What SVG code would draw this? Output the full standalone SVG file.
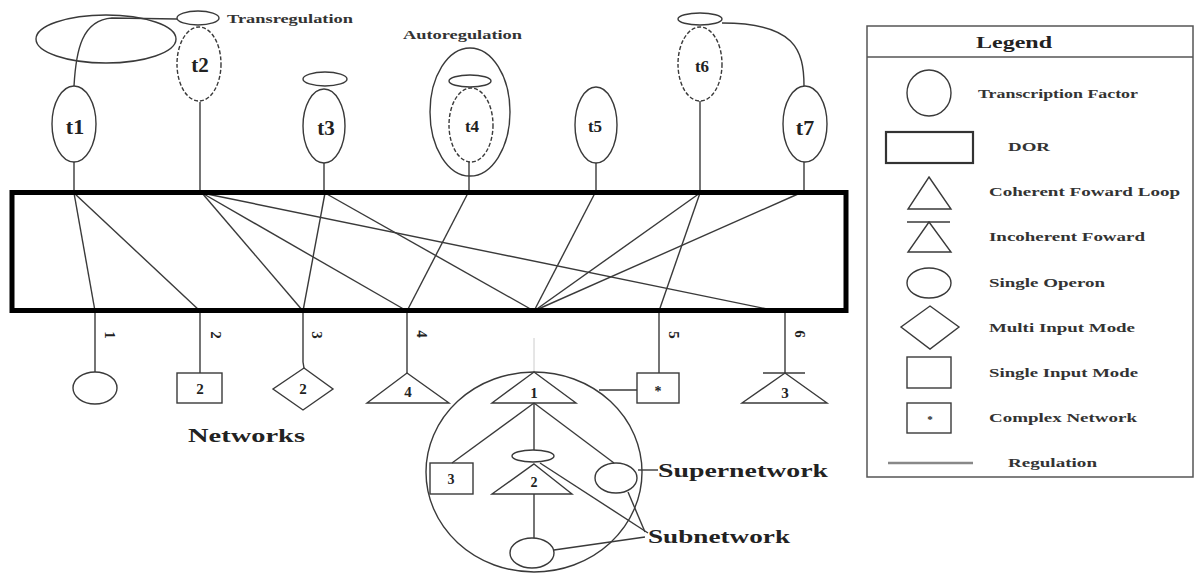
<svg xmlns="http://www.w3.org/2000/svg" width="1196" height="574" viewBox="0 0 1196 574">
<style>
.s{fill:none;stroke:#3a3a3a;stroke-width:1.4}
.d{fill:none;stroke:#3a3a3a;stroke-width:1.4;stroke-dasharray:4 2}
.tl{font-family:"Liberation Serif",serif;font-weight:bold;fill:#222;text-anchor:middle;dominant-baseline:central}
.b{font-family:"Liberation Serif",serif;font-weight:bold;fill:#222}
.sm{font-family:"Liberation Serif",serif;font-weight:bold;fill:#333;font-size:12px;dominant-baseline:central}
.c{text-anchor:middle;dominant-baseline:central}
</style>
<rect width="1196" height="574" fill="#fff"/>
<g id="connectors">
<path class="s" d="M74,86 C76,50 82,20 112,18 L177,19"/>
<path class="s" d="M722,23 C795,23 804,50 804,86"/>
<line class="s" x1="74" y1="162" x2="74" y2="193"/>
<line class="s" x1="200" y1="102" x2="200" y2="193"/>
<line class="s" x1="324" y1="163" x2="324" y2="193"/>
<line class="s" x1="469" y1="162" x2="469" y2="193"/>
<line class="s" x1="596" y1="163" x2="596" y2="193"/>
<line class="s" x1="700" y1="101" x2="700" y2="193"/>
<line class="s" x1="804" y1="162" x2="804" y2="193"/>
<line class="s" x1="74" y1="193" x2="95" y2="311"/>
<line class="s" x1="74" y1="193" x2="200" y2="311"/>
<line class="s" x1="202" y1="193" x2="303" y2="311"/>
<line class="s" x1="202" y1="193" x2="407" y2="311"/>
<line class="s" x1="202" y1="193" x2="772" y2="310"/>
<line class="s" x1="325" y1="193" x2="303" y2="311"/>
<line class="s" x1="325" y1="193" x2="534" y2="311"/>
<line class="s" x1="468" y1="193" x2="407" y2="311"/>
<line class="s" x1="595" y1="193" x2="534" y2="311"/>
<line class="s" x1="700" y1="193" x2="534" y2="311"/>
<line class="s" x1="700" y1="193" x2="659" y2="311"/>
<line class="s" x1="798" y1="194" x2="536" y2="310"/>
<line class="s" x1="95" y1="311" x2="95" y2="372"/>
<line class="s" x1="200" y1="311" x2="200" y2="373"/>
<path class="s" d="M303,311 L303,362 L304,368"/>
<line class="s" x1="407" y1="311" x2="407" y2="373"/>
<line class="s" x1="659" y1="311" x2="659" y2="373"/>
<line class="s" x1="785" y1="311" x2="785" y2="373"/>
<line x1="534" y1="338" x2="534" y2="372" stroke="#ccc" stroke-width="1"/>
<line class="s" x1="599" y1="390" x2="637" y2="390"/>
<line class="s" x1="534" y1="403" x2="452" y2="463"/>
<line class="s" x1="534" y1="403" x2="534" y2="450"/>
<line class="s" x1="534" y1="403" x2="614" y2="463"/>
<line class="s" x1="534" y1="494" x2="534" y2="538"/>
<line class="s" x1="638" y1="470" x2="658" y2="470"/>
<line class="s" x1="540" y1="463" x2="648" y2="533"/>
<line class="s" x1="628" y1="492" x2="645" y2="532"/>
<line class="s" x1="554" y1="550" x2="645" y2="537"/>
</g>
<g id="dor"><rect x="12" y="192.5" width="834" height="118" fill="none" stroke="#000" stroke-width="5"/></g>
<g id="t1"><ellipse class="s" cx="106" cy="39" rx="70" ry="24"/><ellipse class="s" cx="74" cy="124" rx="22" ry="38"/><text class="tl" x="75" y="126" font-size="22">t1</text></g>
<g id="t2"><ellipse class="s" cx="198" cy="18" rx="21" ry="7"/><ellipse class="d" cx="199" cy="64" rx="22" ry="37"/><text class="tl" x="200" y="65" font-size="21">t2</text>
<text class="sm" x="227" y="19" font-size="11" textLength="126" lengthAdjust="spacingAndGlyphs">Transregulation</text></g>
<g id="t3"><ellipse class="s" cx="325" cy="79" rx="22" ry="7"/><ellipse class="s" cx="324" cy="126" rx="21" ry="37"/><text class="tl" x="326" y="128" font-size="21">t3</text></g>
<g id="t4"><text class="sm" x="403" y="35" textLength="119" lengthAdjust="spacingAndGlyphs">Autoregulation</text><ellipse class="s" cx="470" cy="112" rx="40" ry="64"/><ellipse class="s" cx="470" cy="81" rx="21" ry="6"/><ellipse class="d" cx="471" cy="125" rx="22" ry="37"/><text class="tl" x="472" y="126" font-size="17">t4</text></g>
<g id="t5"><ellipse class="s" cx="596" cy="125" rx="21" ry="38"/><text class="tl" x="595" y="126" font-size="17">t5</text></g>
<g id="t6"><ellipse class="s" cx="700" cy="19" rx="22" ry="6"/><ellipse class="d" cx="700" cy="64" rx="22" ry="37"/><text class="tl" x="702" y="66" font-size="17">t6</text></g>
<g id="t7"><ellipse class="s" cx="805" cy="124" rx="22" ry="38"/><text class="tl" x="805" y="127" font-size="22">t7</text></g>
<g id="labels">
<text class="b c" font-size="15" transform="translate(110,335) rotate(90)">1</text>
<text class="b c" font-size="15" transform="translate(216,335) rotate(90)">2</text>
<text class="b c" font-size="15" transform="translate(317,335) rotate(90)">3</text>
<text class="b c" font-size="15" transform="translate(422,334) rotate(90)">4</text>
<text class="b c" font-size="15" transform="translate(674,335) rotate(90)">5</text>
<text class="b c" font-size="15" transform="translate(800,334) rotate(90)">6</text>
</g>
<g id="n1"><ellipse class="s" cx="95" cy="388" rx="22" ry="16"/></g>
<g id="n2"><rect class="s" x="177" y="373" width="45" height="30"/><text class="b c" x="200" y="389" font-size="15">2</text></g>
<g id="n3"><polygon class="s" points="304,368 333,389 303,410 273,389"/><text class="b c" x="303" y="389" font-size="15">2</text></g>
<g id="n4"><polygon class="s" points="407,373 449,403 367,403"/><text class="b c" x="408" y="392" font-size="15">4</text></g>
<g id="n6"><line class="s" x1="763" y1="373" x2="805" y2="373"/><polygon class="s" points="785,373 827,403 742,403"/><text class="b c" x="785" y="393" font-size="15">3</text></g>
<g id="n5"><rect class="s" x="637" y="373" width="42" height="30"/><text class="b c" x="658" y="391" font-size="14">*</text></g>
<g id="networks"><text class="b" x="188" y="442" font-size="19" textLength="117" lengthAdjust="spacingAndGlyphs">Networks</text></g>
<g id="supernetwork">
<ellipse class="s" cx="534" cy="472" rx="108" ry="100"/>
<polygon class="s" points="534,372 576,403 492,403"/><text class="b c" x="534" y="393" font-size="15">1</text>
<rect class="s" x="430" y="463" width="43" height="31"/><text class="b c" x="451" y="479" font-size="14">3</text>
<ellipse class="s" cx="533" cy="456" rx="21" ry="6"/>
<polygon class="s" points="534,464 572,494 492,494"/><text class="b c" x="534" y="482" font-size="14">2</text>
<ellipse class="s" cx="616" cy="478" rx="21" ry="15"/>
<ellipse class="s" cx="532" cy="553" rx="22" ry="15"/>
<text class="b" x="658" y="477" font-size="19" textLength="170" lengthAdjust="spacingAndGlyphs">Supernetwork</text>
<text class="b" x="648" y="543" font-size="19" textLength="142" lengthAdjust="spacingAndGlyphs">Subnetwork</text>
</g>
<g id="legend">
<rect x="867" y="26" width="326" height="451" fill="none" stroke="#555" stroke-width="1.5"/>
<line x1="867" y1="57" x2="1193" y2="57" stroke="#555" stroke-width="1.5"/>
<text class="b" x="976" y="48" font-size="16" textLength="76" lengthAdjust="spacingAndGlyphs">Legend</text>
<ellipse class="s" cx="929" cy="93" rx="22" ry="23"/>
<text class="sm" x="978" y="94" textLength="160" lengthAdjust="spacingAndGlyphs">Transcription Factor</text>
<rect x="886" y="132" width="87" height="31" fill="none" stroke="#333" stroke-width="2.2"/>
<text class="sm" x="1008" y="147" textLength="42" lengthAdjust="spacingAndGlyphs">DOR</text>
<polygon class="s" points="929,177 951,209 908,209"/>
<text class="sm" x="989" y="192" textLength="191" lengthAdjust="spacingAndGlyphs">Coherent Foward Loop</text>
<line class="s" x1="907" y1="222" x2="950" y2="222"/>
<polygon class="s" points="929,222 951,252 908,252"/>
<text class="sm" x="989" y="237" textLength="156" lengthAdjust="spacingAndGlyphs">Incoherent Foward</text>
<ellipse class="s" cx="929" cy="283" rx="22" ry="15"/>
<text class="sm" x="989" y="283" textLength="116" lengthAdjust="spacingAndGlyphs">Single Operon</text>
<polygon class="s" points="930,306 959,327 930,349 901,327"/>
<text class="sm" x="989" y="328" textLength="146" lengthAdjust="spacingAndGlyphs">Multi Input Mode</text>
<rect class="s" x="907" y="357" width="44" height="31"/>
<text class="sm" x="989" y="373" textLength="149" lengthAdjust="spacingAndGlyphs">Single Input Mode</text>
<rect class="s" x="907" y="403" width="44" height="30"/>
<text class="b c" x="930" y="419" font-size="11">*</text>
<text class="sm" x="989" y="418" textLength="148" lengthAdjust="spacingAndGlyphs">Complex Network</text>
<line x1="888" y1="463" x2="973" y2="463" stroke="#888" stroke-width="2.5"/>
<text class="sm" x="1008" y="463" textLength="89" lengthAdjust="spacingAndGlyphs">Regulation</text>
</g>
</svg>
